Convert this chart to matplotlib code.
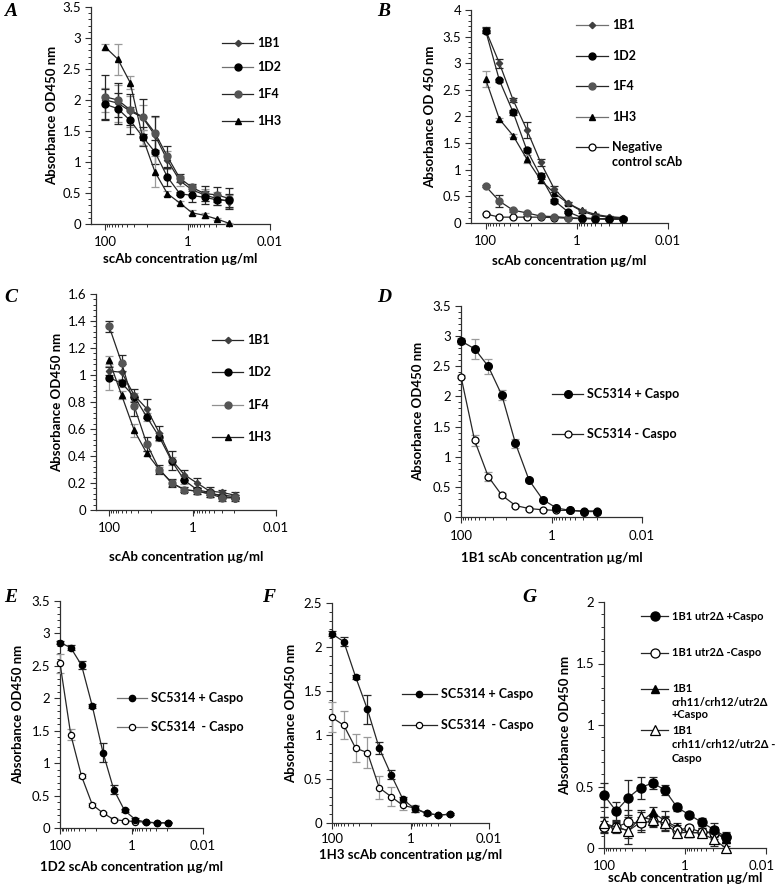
import matplotlib
matplotlib.use("Agg")
import matplotlib.pyplot as plt
from matplotlib.lines import Line2D
from matplotlib.transforms import ScaledTranslation
from matplotlib.ticker import FixedLocator, FuncFormatter, MultipleLocator

plt.rcParams['font.family'] = ['Lato', 'DejaVu Sans']

# ---------------------------
# data (2-fold dilution series, ug/ml)
# ---------------------------
conc = [100, 50, 25, 12.5, 6.25, 3.125, 1.5625, 0.78125, 0.390625, 0.1953125, 0.09765625]

# A
a_1b1 = [2.00, 1.95, 1.82, 1.72, 1.43, 1.03, 0.70, 0.55, 0.47, 0.41, 0.36]
a_1b1_err = [0.20, 0.30, 0.25, 0.20, 0.30, 0.15, 0.08, 0.08, 0.10, 0.10, 0.10]
a_1d2 = [1.93, 1.86, 1.67, 1.41, 1.16, 0.76, 0.49, 0.46, 0.43, 0.39, 0.38]
a_1d2_err = [0.25, 0.25, 0.22, 0.15, 0.20, 0.15, 0.03, 0.10, 0.10, 0.08, 0.10]
a_1f4 = [2.05, 2.00, 1.84, 1.73, 1.47, 1.09, 0.74, 0.59, 0.49, 0.47, 0.41]
a_1f4_err = [0.35, 0.28, 0.25, 0.28, 0.28, 0.17, 0.06, 0.06, 0.12, 0.12, 0.17]
a_1h3 = [2.85, 2.66, 2.28, 1.40, 0.84, 0.49, 0.34, 0.18, 0.14, 0.08, 0.01]
a_1h3_err = [0.05, 0.25, 0.10, 0.12, 0.25, 0.04, 0.03, 0.04, 0.04, 0.02, 0.01]

# B
b_1b1 = [3.62, 3.00, 2.31, 1.75, 1.14, 0.64, 0.37, 0.22, 0.14, 0.11, 0.09]
b_1b1_err = [0.06, 0.08, 0.04, 0.15, 0.07, 0.06, 0.03, 0.03, 0.02, 0.02, 0.02]
b_1d2 = [3.61, 2.68, 2.08, 1.37, 0.88, 0.42, 0.21, 0.10, 0.08, 0.07, 0.07]
b_1d2_err = [0.05, 0.03, 0.05, 0.04, 0.06, 0.04, 0.02, 0.02, 0.01, 0.01, 0.01]
b_1f4 = [0.69, 0.41, 0.24, 0.19, 0.13, 0.12, 0.10, 0.09, 0.08, 0.08, 0.08]
b_1f4_err = [0.02, 0.11, 0.03, 0.02, 0.02, 0.01, 0.01, 0.01, 0.01, 0.01, 0.01]
b_1h3 = [2.70, 1.95, 1.64, 1.20, 0.81, 0.56, 0.37, 0.24, 0.16, 0.12, 0.10]
b_1h3_err = [0.15, 0.03, 0.03, 0.08, 0.05, 0.03, 0.02, 0.02, 0.02, 0.01, 0.01]
b_neg = [0.17, 0.11, 0.11, 0.11, 0.11, 0.10, 0.09, 0.08, 0.08, 0.08, 0.08]
b_neg_err = [0.01, 0.01, 0.01, 0.01, 0.01, 0.01, 0.01, 0.01, 0.01, 0.01, 0.01]

# C
c_1b1 = [1.03, 1.02, 0.85, 0.75, 0.57, 0.37, 0.26, 0.20, 0.14, 0.13, 0.11]
c_1b1_err = [0.03, 0.06, 0.05, 0.07, 0.05, 0.07, 0.04, 0.04, 0.03, 0.02, 0.02]
c_1d2 = [0.98, 0.94, 0.84, 0.69, 0.54, 0.36, 0.22, 0.15, 0.13, 0.10, 0.09]
c_1d2_err = [0.09, 0.03, 0.03, 0.03, 0.03, 0.03, 0.03, 0.02, 0.02, 0.01, 0.01]
c_1f4 = [1.36, 1.09, 0.77, 0.49, 0.30, 0.20, 0.15, 0.14, 0.12, 0.09, 0.09]
c_1f4_err = [0.04, 0.06, 0.07, 0.05, 0.03, 0.03, 0.02, 0.02, 0.02, 0.02, 0.02]
c_1h3 = [1.11, 0.85, 0.59, 0.42, 0.30, 0.20, 0.15, 0.14, 0.12, 0.11, 0.10]
c_1h3_err = [0.03, 0.03, 0.05, 0.02, 0.02, 0.02, 0.02, 0.02, 0.02, 0.01, 0.01]

# D
d_plus = [2.92, 2.79, 2.50, 2.02, 1.22, 0.61, 0.29, 0.15, 0.11, 0.09, 0.09]
d_plus_err = [0.05, 0.17, 0.12, 0.08, 0.08, 0.03, 0.03, 0.02, 0.02, 0.01, 0.01]
d_minus = [2.33, 1.27, 0.67, 0.36, 0.19, 0.14, 0.12, 0.11, 0.11, 0.10, 0.10]
d_minus_err = [0.03, 0.09, 0.08, 0.03, 0.02, 0.02, 0.01, 0.01, 0.01, 0.01, 0.01]

# E
e_plus = [2.86, 2.78, 2.51, 1.88, 1.16, 0.59, 0.27, 0.13, 0.09, 0.08, 0.08]
e_plus_err = [0.03, 0.04, 0.06, 0.03, 0.15, 0.07, 0.03, 0.02, 0.01, 0.01, 0.01]
e_minus = [2.54, 1.44, 0.80, 0.36, 0.23, 0.13, 0.11, 0.10, 0.09, 0.08, 0.08]
e_minus_err = [0.15, 0.09, 0.03, 0.03, 0.02, 0.02, 0.01, 0.01, 0.01, 0.01, 0.01]

# F
f_plus = [2.15, 2.06, 1.66, 1.29, 0.85, 0.55, 0.27, 0.16, 0.11, 0.09, 0.10]
f_plus_err = [0.03, 0.05, 0.02, 0.16, 0.07, 0.05, 0.03, 0.03, 0.02, 0.01, 0.01]
f_minus = [1.20, 1.11, 0.85, 0.80, 0.40, 0.30, 0.20, 0.17, 0.11, 0.09, 0.10]
f_minus_err = [0.17, 0.16, 0.16, 0.18, 0.13, 0.11, 0.05, 0.04, 0.02, 0.01, 0.01]

# G
g_utr_plus = [0.43, 0.30, 0.41, 0.49, 0.53, 0.47, 0.33, 0.27, 0.21, 0.15, 0.09]
g_utr_plus_err = [0.10, 0.07, 0.14, 0.09, 0.05, 0.04, 0.03, 0.02, 0.03, 0.05, 0.04]
g_utr_minus = [0.17, 0.17, 0.21, 0.20, 0.22, 0.21, 0.15, 0.16, 0.13, 0.12, 0.09]
g_utr_minus_err = [0.05, 0.05, 0.10, 0.05, 0.05, 0.05, 0.04, 0.03, 0.03, 0.05, 0.03]
g_crh_plus = [0.19, 0.17, 0.14, 0.21, 0.29, 0.22, 0.17, 0.12, 0.13, 0.13, 0.07]
g_crh_plus_err = [0.06, 0.04, 0.11, 0.08, 0.04, 0.08, 0.03, 0.03, 0.03, 0.04, 0.03]
g_crh_minus = [0.20, 0.17, 0.14, 0.25, 0.23, 0.20, 0.12, 0.13, 0.12, 0.07, 0.00]
g_crh_minus_err = [0.05, 0.03, 0.06, 0.06, 0.05, 0.05, 0.03, 0.03, 0.03, 0.05, 0.02]

# ---------------------------
# styles
# ---------------------------
LINE = '#262626'
GREY_ERR = '#9a9a9a'
ST_1B1 = dict(marker='D', ms=3.2, mfc='#404040', mec='#404040')
ST_1D2 = dict(marker='o', ms=5, mfc='black', mec='black')
ST_1F4 = dict(marker='o', ms=5, mfc='#555555', mec='#555555')
ST_1H3 = dict(marker='^', ms=4.5, mfc='black', mec='black')
ST_OPEN = dict(marker='o', ms=5, mfc='white', mec='black', mew=0.9)
ST_FILL = dict(marker='o', ms=5.5, mfc='black', mec='black')
ST_OTRI = dict(marker='^', ms=6.5, mfc='white', mec='black', mew=0.9)

W, H = 777, 886
fig = plt.figure(figsize=(W / 100, H / 100), dpi=100)


def make_axes(l, r, t, b, ymax, ymajor, yminor, xleft):
    ax = fig.add_axes([l / W, 1 - b / H, (r - l) / W, (b - t) / H])
    ax.set_xscale('log')
    ax.set_xlim(xleft, 0.01)
    ax.set_ylim(0, ymax)
    ax.xaxis.set_major_locator(FixedLocator([100, 1, 0.01]))
    ax.xaxis.set_minor_locator(FixedLocator([10, 20, 30, 40, 50, 60, 70, 80, 90,
                                             0.1, 0.2, 0.3, 0.4, 0.5, 0.6, 0.7, 0.8, 0.9]))
    ax.xaxis.set_major_formatter(FuncFormatter(lambda v, p: f"{v:g}"))
    ax.xaxis.set_minor_formatter(FuncFormatter(lambda v, p: ""))
    ax.yaxis.set_major_locator(MultipleLocator(ymajor))
    ax.yaxis.set_minor_locator(MultipleLocator(yminor))
    ax.yaxis.set_major_formatter(FuncFormatter(lambda v, p: f"{v:g}"))
    for s in ['top', 'right']:
        ax.spines[s].set_visible(False)
    for s in ['left', 'bottom']:
        ax.spines[s].set_color('#303030')
        ax.spines[s].set_linewidth(0.9)
    ax.tick_params(which='major', direction='out', length=4, width=0.8, color='#303030',
                   labelsize=9.5, pad=3)
    ax.tick_params(which='minor', direction='out', length=2.5, width=0.7, color='#303030')
    ax.tick_params(axis='x', which='major', pad=5)
    ax.set_facecolor('none')
    return ax


def series(ax, y, err, st, ecolor=LINE):
    ax.errorbar(conc, y, yerr=err, color=LINE, lw=0.9, ecolor=ecolor, elinewidth=0.9,
                capsize=3, capthick=0.9, clip_on=False, zorder=3, **st)


def labels(ax, xlabel, ylabel, xl_y, yl_x):
    # label centres given in figure pixels
    bb = ax.get_position()
    ax.set_xlabel(xlabel, fontsize=9.5, fontweight='bold')
    ax.set_ylabel(ylabel, fontsize=9.5, fontweight='bold')
    ax.xaxis.set_label_coords(0.5, ((1 - xl_y / H) - bb.y0) / bb.height)
    ax.xaxis.label.set_va('center')
    ax.yaxis.set_label_coords((yl_x / W - bb.x0) / bb.width, 0.5)
    ax.yaxis.label.set_va('center')


def key(x0, x1, y, st, lines, gap=15, lcolor=LINE, size=9):
    yf = 1 - y / H
    fig.add_artist(Line2D([x0 / W, (x0 + x1) / 2 / W, x1 / W], [yf, yf, yf],
                          transform=fig.transFigure, color=lcolor, lw=0.9,
                          markevery=[1], **st))
    for i, txt in enumerate(lines):
        fig.text((x1 + 4) / W, 1 - (y + i * gap) / H, txt, fontsize=size,
                 fontweight='bold', va='center', ha='left')


def letter(x, y, s):
    fig.text(x / W, 1 - y / H, s, fontfamily='Liberation Serif', fontweight='bold',
             fontstyle='italic', fontsize=14, va='center', ha='left')


# ---------------------------
# A
# ---------------------------
ax = make_axes(91, 270, 7, 224, 3.5, 0.5, 0.1, 224)
series(ax, a_1b1, a_1b1_err, ST_1B1, GREY_ERR)
series(ax, a_1f4, a_1f4_err, ST_1F4)
series(ax, a_1d2, a_1d2_err, ST_1D2)
series(ax, a_1h3, a_1h3_err, ST_1H3, GREY_ERR)
labels(ax, 'scAb concentration µg/ml', 'Absorbance OD450 nm', 259, 52)
key(222, 253, 43, ST_1B1, ['1B1'])
key(222, 253, 67, ST_1D2, ['1D2'], lcolor='#707070')
key(222, 253, 94, ST_1F4, ['1F4'])
key(222, 253, 121, ST_1H3, ['1H3'])
letter(4, 12, 'A')

# ---------------------------
# B
# ---------------------------
ax = make_axes(471, 668, 10, 223, 4, 0.5, 0.1, 210)
series(ax, b_neg, b_neg_err, ST_OPEN, GREY_ERR)
series(ax, b_1f4, b_1f4_err, ST_1F4)
series(ax, b_1h3, b_1h3_err, ST_1H3, GREY_ERR)
series(ax, b_1b1, b_1b1_err, ST_1B1)
series(ax, b_1d2, b_1d2_err, ST_1D2)
labels(ax, 'scAb concentration µg/ml', 'Absorbance OD 450 nm', 261, 430)
key(576, 608, 25, ST_1B1, ['1B1'], lcolor='#707070')
key(576, 608, 56, ST_1D2, ['1D2'])
key(576, 608, 86, ST_1F4, ['1F4'])
key(576, 608, 117, ST_1H3, ['1H3'], lcolor='#707070')
key(576, 608, 147, ST_OPEN, ['Negative', 'control scAb'])
letter(377, 12, 'B')

# ---------------------------
# C
# ---------------------------
ax = make_axes(96, 276, 294, 510, 1.6, 0.2, 0.04, 206)
series(ax, c_1h3, c_1h3_err, ST_1H3, GREY_ERR)
series(ax, c_1d2, c_1d2_err, ST_1D2, GREY_ERR)
series(ax, c_1b1, c_1b1_err, ST_1B1)
series(ax, c_1f4, c_1f4_err, ST_1F4)
labels(ax, 'scAb concentration µg/ml', 'Absorbance OD450 nm', 557, 57)
key(212, 243, 340, ST_1B1, ['1B1'])
key(212, 243, 372, ST_1D2, ['1D2'])
key(212, 243, 405, ST_1F4, ['1F4'], lcolor='#909090')
key(212, 243, 437, ST_1H3, ['1H3'])
letter(4, 297, 'C')

# ---------------------------
# D
# ---------------------------
ax = make_axes(461, 642, 306, 517, 3.5, 0.5, 0.1, 100)
series(ax, d_minus, d_minus_err, ST_OPEN, GREY_ERR)
series(ax, d_plus, d_plus_err, ST_FILL, GREY_ERR)
labels(ax, '1B1 scAb concentration µg/ml', 'Absorbance OD450 nm', 558, 418)
key(552, 583, 394, ST_FILL, ['SC5314 + Caspo'])
key(552, 583, 434, ST_OPEN, ['SC5314 - Caspo'])
letter(377, 297, 'D')

# ---------------------------
# E
# ---------------------------
ax = make_axes(60, 203, 601, 828, 3.5, 0.5, 0.1, 100)
series(ax, e_minus, e_minus_err, dict(ST_OPEN, ms=4.5), GREY_ERR)
series(ax, e_plus, e_plus_err, dict(ST_FILL, ms=4.5))
labels(ax, '1D2 scAb concentration µg/ml', 'Absorbance OD450 nm', 867, 18)
key(117, 147, 698, dict(ST_FILL, ms=4.5), ['SC5314 + Caspo'], lcolor='#707070')
key(117, 147, 727, dict(ST_OPEN, ms=4.5), ['SC5314  - Caspo'], lcolor='#707070')
letter(4, 597, 'E')

# ---------------------------
# F
# ---------------------------
ax = make_axes(332, 489, 603, 823, 2.5, 0.5, 0.1, 100)
ax.tick_params(axis='x', which='major', pad=3)
series(ax, f_minus, f_minus_err, dict(ST_OPEN, ms=4.5), GREY_ERR)
series(ax, f_plus, f_plus_err, dict(ST_FILL, ms=4.5))
labels(ax, '1H3 scAb concentration µg/ml', 'Absorbance OD450 nm', 855, 291)
key(402, 437, 694, dict(ST_FILL, ms=4.5), ['SC5314 + Caspo'])
key(402, 437, 725, dict(ST_OPEN, ms=4.5), ['SC5314  - Caspo'])
letter(262, 597, 'F')

# ---------------------------
# G
# ---------------------------
ax = make_axes(604, 766, 602, 848, 2, 0.5, 0.1, 100)
series(ax, g_crh_plus, g_crh_plus_err, dict(ST_1H3, ms=6))
series(ax, g_utr_minus, g_utr_minus_err, dict(ST_OPEN, ms=6.5))
series(ax, g_crh_minus, g_crh_minus_err, ST_OTRI)
series(ax, g_utr_plus, g_utr_plus_err, dict(ST_FILL, ms=6.5))
labels(ax, 'scAb concentration µg/ml', 'Absorbance OD450 nm', 878, 565)
# nudge the right-most tick label so it stays inside the figure
last = ax.get_xticklabels()[-1]
last.set_transform(last.get_transform() + ScaledTranslation(-4 / 100, 0, fig.dpi_scale_trans))
key(641, 668, 616, dict(ST_FILL, ms=6.5), ['1B1 utr2Δ +Caspo'], size=8)
key(641, 668, 653, dict(ST_OPEN, ms=6.5), ['1B1 utr2Δ -Caspo'], size=8)
key(641, 668, 689, dict(ST_1H3, ms=6), ['1B1', 'crh11/crh12/utr2Δ', '+Caspo'], gap=13, size=8)
key(641, 668, 730, ST_OTRI, ['1B1', 'crh11/crh12/utr2Δ -', 'Caspo'], gap=14, size=8)
letter(522, 597, 'G')

fig.savefig('out.png', dpi=100, facecolor='white')
